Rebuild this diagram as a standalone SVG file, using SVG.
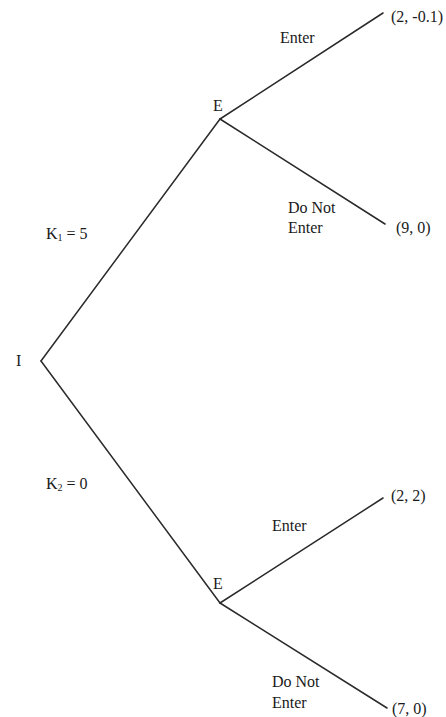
<svg xmlns="http://www.w3.org/2000/svg" width="446" height="717" viewBox="0 0 446 717">
<style>
.e{stroke:#2a2a2a;stroke-width:1.5;fill:none;stroke-linecap:round}
text{font-family:"Liberation Serif","Times New Roman",serif;font-size:16px;fill:#1a1a1a}
.s{font-size:10px}
</style>
<rect width="446" height="717" fill="#fff"/>
<g id="connectors">
<line class="e" x1="41" y1="361" x2="220" y2="119"/>
<line class="e" x1="41" y1="361" x2="220" y2="603"/>
<line class="e" x1="220" y1="119" x2="383" y2="13"/>
<line class="e" x1="220" y1="119" x2="385" y2="224"/>
<line class="e" x1="220" y1="603" x2="383" y2="498"/>
<line class="e" x1="220" y1="603" x2="387" y2="708"/>
</g>
<g id="node-I"><text x="16" y="366">I</text></g>
<g id="node-E1"><text x="213" y="111">E</text></g>
<g id="node-E2"><text x="213" y="589">E</text></g>
<g id="labels">
<text x="280" y="43">Enter</text>
<text x="288" y="213">Do Not</text>
<text x="288" y="233">Enter</text>
<text x="272" y="531">Enter</text>
<text x="272" y="687">Do Not</text>
<text x="272" y="708">Enter</text>
<text x="46" y="239">K<tspan class="s" dy="2">1</tspan><tspan dy="-2"> = 5</tspan></text>
<text x="46" y="489">K<tspan class="s" dy="2">2</tspan><tspan dy="-2"> = 0</tspan></text>
</g>
<g id="payoffs">
<text x="391" y="22">(2, -0.1)</text>
<text x="396" y="233">(9, 0)</text>
<text x="391" y="501">(2, 2)</text>
<text x="392" y="714">(7, 0)</text>
</g>
</svg>
